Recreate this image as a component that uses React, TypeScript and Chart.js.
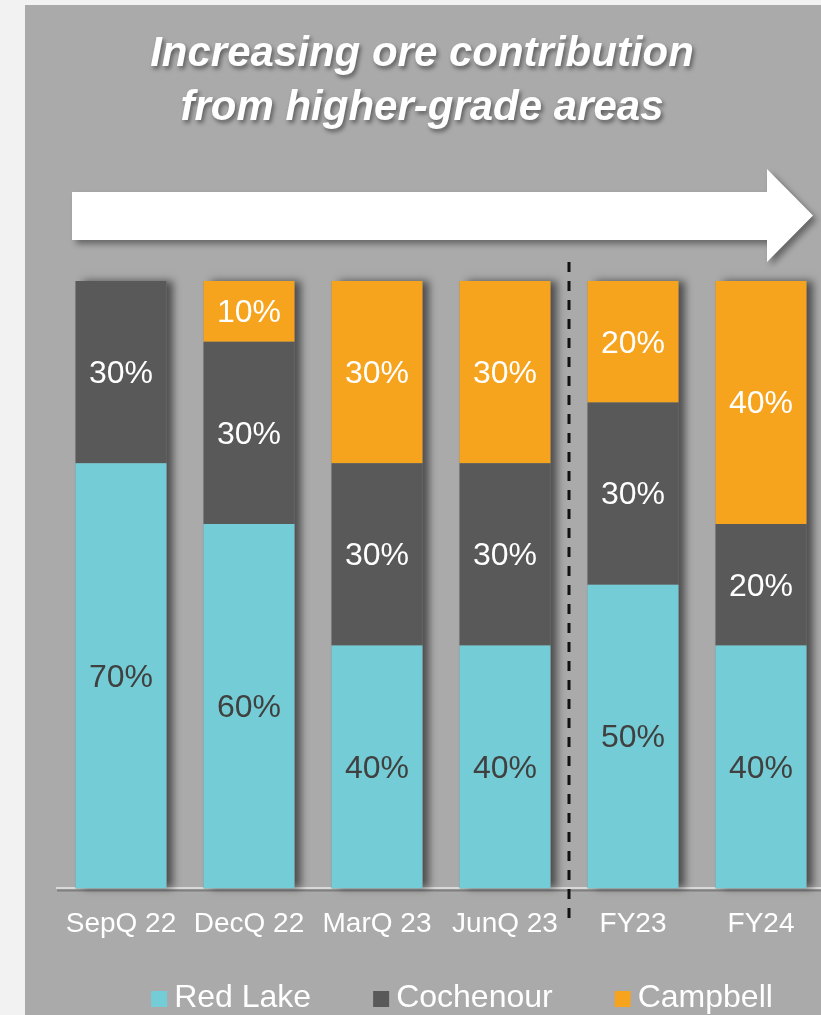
import React, { useEffect, useRef } from "react";
import { Chart, registerables } from "chart.js";

Chart.register(...registerables);

const categories = ["SepQ 22", "DecQ 22", "MarQ 23", "JunQ 23", "FY23", "FY24"];
const redLake = [70, 60, 40, 40, 50, 40];
const cochenour = [30, 30, 30, 30, 30, 20];
const campbell = [0, 10, 30, 30, 20, 40];
const seriesNames = ["Red Lake", "Cochenour", "Campbell"];
const seriesColors = ["#74cdd6", "#595959", "#f6a31e"];
const labelColors = ["#404040", "#ffffff", "#ffffff"];
const titleLines = ["Increasing ore contribution", "from higher-grade areas"];

const FONT = "'Liberation Sans', Arial, sans-serif";

const decorPlugin = {
  id: "decor",
  beforeDraw(chart: any) {
    const ctx = chart.ctx;
    const W = chart.width;
    const H = chart.height;
    ctx.save();
    ctx.fillStyle = "#f2f2f2";
    ctx.fillRect(0, 0, W, H);
    ctx.fillStyle = "#aaaaaa";
    ctx.fillRect(25, 5, W - 25, H - 5);

    // title
    ctx.font = `italic bold 42px ${FONT}`;
    ctx.textAlign = "center";
    ctx.textBaseline = "alphabetic";
    ctx.shadowColor = "rgba(0,0,0,0.45)";
    ctx.shadowBlur = 4;
    ctx.shadowOffsetX = 2;
    ctx.shadowOffsetY = 3;
    ctx.fillStyle = "#ffffff";
    ctx.fillText(titleLines[0], 422, 66);
    ctx.fillText(titleLines[1], 422, 120);

    // arrow
    ctx.shadowColor = "rgba(0,0,0,0.4)";
    ctx.shadowBlur = 6;
    ctx.shadowOffsetX = 4;
    ctx.shadowOffsetY = 4;
    ctx.beginPath();
    ctx.moveTo(72, 192);
    ctx.lineTo(767, 192);
    ctx.lineTo(767, 169);
    ctx.lineTo(813, 215.5);
    ctx.lineTo(767, 262);
    ctx.lineTo(767, 240);
    ctx.lineTo(72, 240);
    ctx.closePath();
    ctx.fill();
    ctx.restore();
  },
  beforeDatasetsDraw(chart: any) {
    const ctx = chart.ctx;
    const n = chart.data.labels.length;
    ctx.save();
    ctx.shadowColor = "rgba(0,0,0,0.55)";
    ctx.shadowBlur = 8;
    ctx.shadowOffsetX = 7;
    ctx.shadowOffsetY = 0;
    ctx.fillStyle = "#888888";
    for (let i = 0; i < n; i++) {
      let top = Infinity;
      let bottom = -Infinity;
      let x = 0;
      let w = 0;
      chart.data.datasets.forEach((ds: any, d: number) => {
        const el = chart.getDatasetMeta(d).data[i];
        if (!el || !ds.data[i]) return;
        const p = el.getProps(["x", "y", "base", "width"], true);
        top = Math.min(top, p.y, p.base);
        bottom = Math.max(bottom, p.y, p.base);
        x = p.x;
        w = p.width;
      });
      if (top < bottom) ctx.fillRect(x - w / 2, top, w, bottom - top);
    }
    ctx.restore();
  },
  afterDatasetsDraw(chart: any) {
    const ctx = chart.ctx;
    ctx.save();
    ctx.font = `32px ${FONT}`;
    ctx.textAlign = "center";
    ctx.textBaseline = "middle";
    chart.data.datasets.forEach((ds: any, d: number) => {
      chart.getDatasetMeta(d).data.forEach((el: any, i: number) => {
        const v = ds.data[i];
        if (!v) return;
        const p = el.getProps(["x", "y", "base"], true);
        ctx.fillStyle = labelColors[d];
        ctx.fillText(`${v}%`, p.x, (p.y + p.base) / 2 + 2);
      });
    });
    ctx.restore();
  },
  afterDraw(chart: any) {
    const ctx = chart.ctx;
    const xs = chart.scales.x;
    const area = chart.chartArea;
    ctx.save();
    // axis shadow
    ctx.strokeStyle = "rgba(0,0,0,0.25)";
    ctx.lineWidth = 2;
    ctx.beginPath();
    ctx.moveTo(area.left, area.bottom + 2);
    ctx.lineTo(chart.width, area.bottom + 2);
    ctx.stroke();
    // dashed separator
    const dx = (xs.getPixelForValue(3) + xs.getPixelForValue(4)) / 2;
    ctx.strokeStyle = "#111111";
    ctx.lineWidth = 3;
    ctx.setLineDash([10, 9]);
    ctx.beginPath();
    ctx.moveTo(dx, 262);
    ctx.lineTo(dx, 918);
    ctx.stroke();
    ctx.setLineDash([]);

    // legend
    ctx.font = `32px ${FONT}`;
    ctx.textBaseline = "alphabetic";
    ctx.textAlign = "left";
    const box = 16;
    const gapText = 7;
    const gapItem = 62;
    const names = chart.data.datasets.map((ds: any) => ds.label);
    const widths = names.map((t: string) => ctx.measureText(t).width);
    const total =
      widths.reduce((a: number, b: number) => a + b, 0) +
      names.length * (box + gapText) +
      (names.length - 1) * gapItem;
    let x = 462 - total / 2;
    names.forEach((t: string, k: number) => {
      ctx.fillStyle = chart.data.datasets[k].backgroundColor;
      ctx.fillRect(x, 991, box, box);
      ctx.fillStyle = "#ffffff";
      ctx.fillText(t, x + box + gapText, 1007);
      x += box + gapText + widths[k] + gapItem;
    });
    ctx.restore();
  },
};

export default function App() {
  const ref = useRef<HTMLCanvasElement | null>(null);
  useEffect(() => {
    if (!ref.current) return;
    const chart = new Chart(ref.current, {
      type: "bar",
      data: {
        labels: categories,
        datasets: [redLake, cochenour, campbell].map((vals, k) => ({
          label: seriesNames[k],
          data: vals,
          backgroundColor: seriesColors[k],
          borderWidth: 0,
          barPercentage: 0.71,
          categoryPercentage: 1,
        })),
      },
      options: {
        responsive: false,
        animation: false,
        devicePixelRatio: 1,
        layout: { padding: { left: 57, right: 0, top: 281, bottom: 55 } },
        plugins: {
          legend: { display: false },
          title: { display: false },
          tooltip: { enabled: false },
        },
        scales: {
          x: {
            stacked: true,
            grid: { display: false, drawTicks: false },
            border: { display: true, color: "#d9d9d9", width: 2 },
            ticks: {
              color: "#ffffff",
              font: { family: FONT, size: 28 },
              padding: 19,
              maxRotation: 0,
              autoSkip: false,
            },
          },
          y: {
            stacked: true,
            display: false,
            min: 0,
            max: 100,
          },
        },
      },
      plugins: [decorPlugin],
    });
    return () => chart.destroy();
  }, []);
  return (
    <div style={{ position: "fixed", left: 0, top: 0, width: 821, height: 1015, overflow: "hidden" }}>
      <canvas ref={ref} width={825} height={1015} style={{ display: "block" }} />
    </div>
  );
}
